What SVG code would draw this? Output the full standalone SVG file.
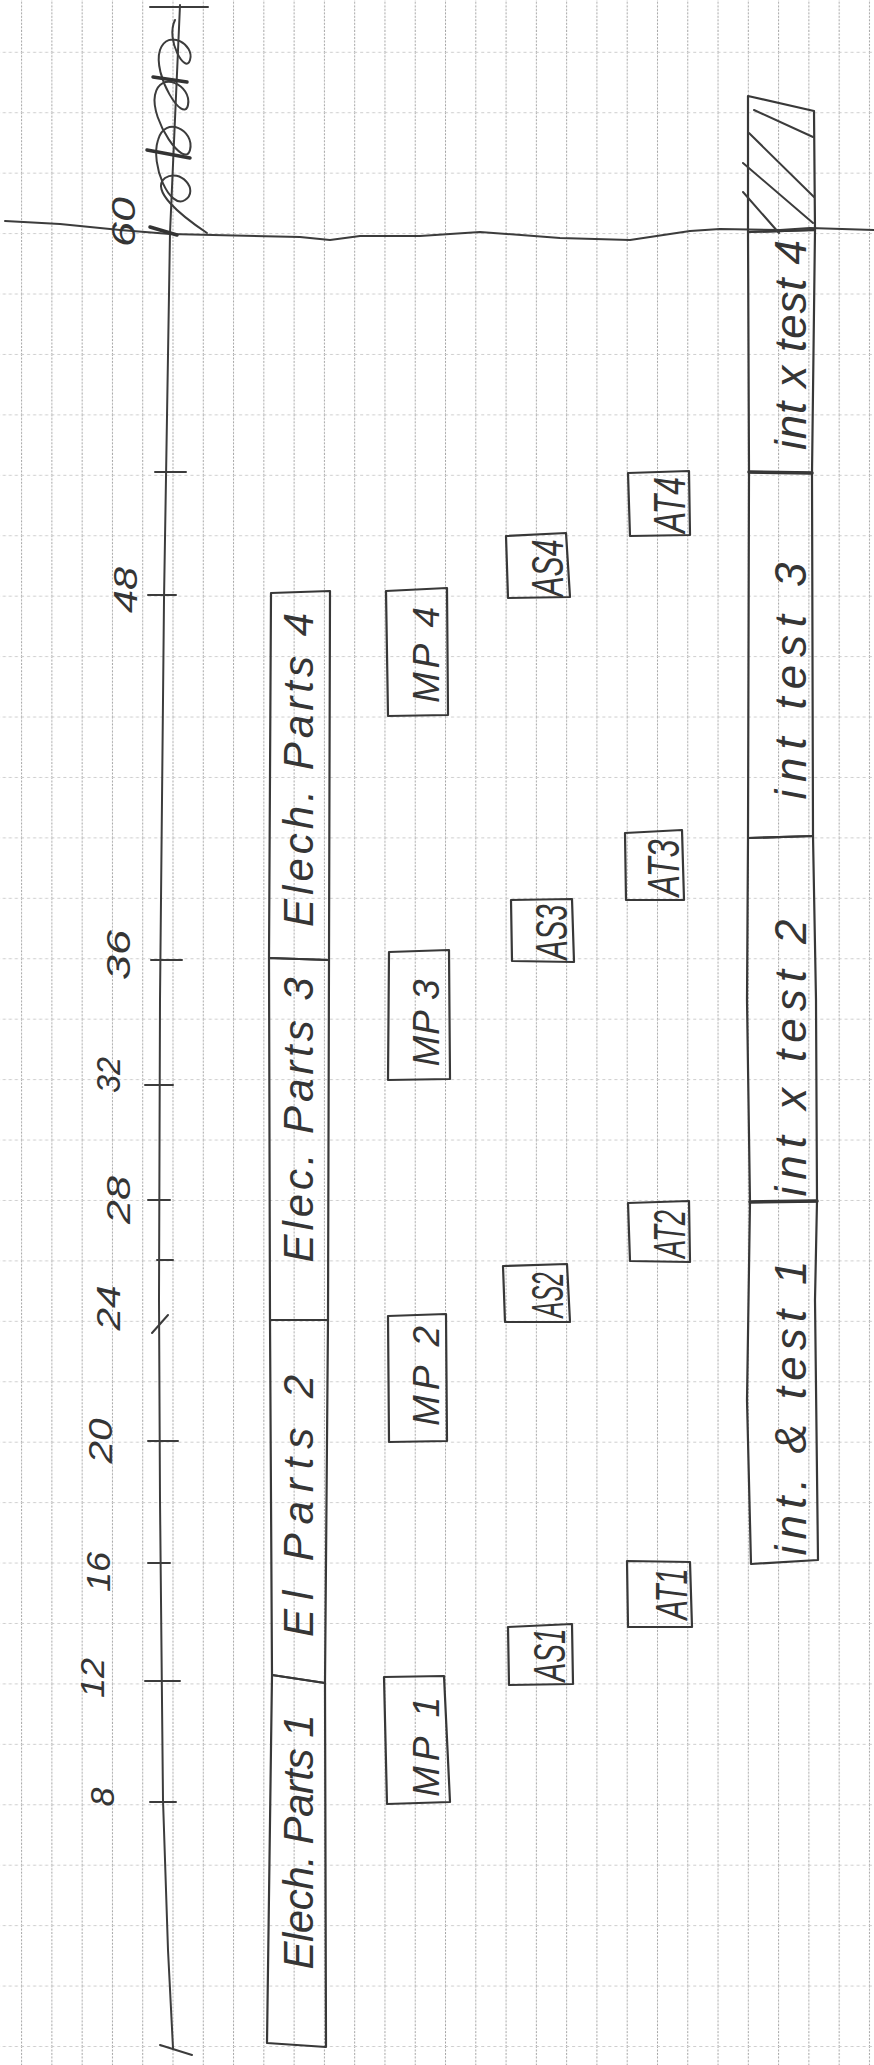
<svg xmlns="http://www.w3.org/2000/svg" width="874" height="2065" viewBox="0 0 874 2065">
<style>
.pen{fill:none;stroke:#3c3c3c;stroke-width:2;stroke-linecap:round;stroke-linejoin:round}
.thick{fill:none;stroke:#333;stroke-width:3.5;stroke-linecap:round}
.box{fill:none;stroke:#383838;stroke-width:2.2;stroke-linejoin:round}
.hand{font-family:"Liberation Sans",Arial,sans-serif;font-style:italic;fill:#353535;text-anchor:middle}
.num{font-size:34px}
.bar{font-size:42px}
.mp{font-size:37px}
.ab{font-size:44px}
.it{font-size:44px}
</style>
<defs>
<pattern id="grid" x="21.1" y="51.8" width="30.28" height="60.43" patternUnits="userSpaceOnUse">
<line x1="0.5" y1="0" x2="0.5" y2="60.43" stroke="#a4a4a4" stroke-width="1" stroke-dasharray="2 1.5"/>
<line x1="0" y1="0.5" x2="30.28" y2="0.5" stroke="#cdcdcd" stroke-width="1" stroke-dasharray="3 3"/>
</pattern>
</defs>
<rect x="0" y="0" width="874" height="2065" fill="#ffffff"/>
<rect x="0" y="0" width="874" height="2065" fill="url(#grid)"/>

<g id="axis">
<path class="pen" d="M5,221 L60,224 L120,230 L170,234 L300,237 L330,240 L360,236 L420,236 L480,232 L560,238 L630,240 L690,231 L720,229 L780,230 L810,228 L874,230"/>
<path class="pen" d="M180,5 L170,233 L164,600 L160,1000 L159,1300 L160,1500 L163,1800 L168,1950 L173,2048"/>
<path class="pen" d="M150,7 L208,7"/>
<path class="pen" d="M207,233 C180,215 150,190 165,178 C180,168 200,190 185,200 C170,210 150,165 158,140 C165,115 195,130 190,150 C185,170 150,120 155,95 C160,70 192,85 188,105 C184,125 152,75 160,50 C168,28 195,45 190,60 C186,75 165,40 175,20"/>
<path class="thick" d="M147,150 L190,158 M153,77 L187,82 M150,227 L177,235"/>
<path class="pen" d="M155,472 L186,472 M148,595 L176,595 M151,960 L182,960 M145,1085 L173,1085 M148,1200 L170,1200 M157,1260 L173,1260 M152,1333 L168,1315 M148,1441 L178,1441 M148,1563 L170,1563 M145,1681 L180,1681 M150,1802 L176,1802 M160,2045 L192,2055"/>
<g class="hand num">
<text transform="translate(135,222) rotate(-90)" textLength="50" lengthAdjust="spacingAndGlyphs">60</text>
<text transform="translate(137,590) rotate(-90)" textLength="46" lengthAdjust="spacingAndGlyphs">48</text>
<text transform="translate(130,955) rotate(-90)" textLength="50" lengthAdjust="spacingAndGlyphs">36</text>
<text transform="translate(120,1075) rotate(-90)" textLength="36" lengthAdjust="spacingAndGlyphs">32</text>
<text transform="translate(130,1200) rotate(-90)" textLength="48" lengthAdjust="spacingAndGlyphs">28</text>
<text transform="translate(120,1308) rotate(-90)" textLength="45" lengthAdjust="spacingAndGlyphs">24</text>
<text transform="translate(112,1441) rotate(-90)" textLength="45" lengthAdjust="spacingAndGlyphs">20</text>
<text transform="translate(110,1572) rotate(-90)" textLength="40" lengthAdjust="spacingAndGlyphs">16</text>
<text transform="translate(104,1678) rotate(-90)" textLength="40" lengthAdjust="spacingAndGlyphs">12</text>
<text transform="translate(114,1797) rotate(-90)">8</text>
</g>
</g>

<g id="connectors"></g>

<g id="elec1">
<path class="box" d="M272,1675 L325,1683 L326,2047 L267,2043 Z"/>
<text class="hand bar" transform="translate(313,1842) rotate(-90)" textLength="255" lengthAdjust="spacing">Elech. Parts 1</text>
</g>
<g id="elec2">
<path class="box" d="M270,1320 L328,1320 L325,1683 L272,1675 Z"/>
<text class="hand bar" transform="translate(313,1506) rotate(-90)" textLength="262" lengthAdjust="spacing">El Parts 2</text>
</g>
<g id="elec3">
<path class="box" d="M269,958 L329,960 L328,1320 L270,1320 Z"/>
<text class="hand bar" transform="translate(313,1120) rotate(-90)" textLength="285" lengthAdjust="spacing">Elec. Parts 3</text>
</g>
<g id="elec4">
<path class="box" d="M271,593 L330,591 L329,960 L269,958 Z"/>
<text class="hand bar" transform="translate(313,770) rotate(-90)" textLength="314" lengthAdjust="spacing">Elech. Parts 4</text>
</g>

<g id="mp1">
<path class="box" d="M384,1677 L444,1676 L450,1802 L387,1804 Z"/>
<text class="hand mp" transform="translate(439,1747) rotate(-90)" textLength="100" lengthAdjust="spacing">MP 1</text>
</g>
<g id="mp2">
<path class="box" d="M388,1316 L446,1314 L447,1441 L389,1442 Z"/>
<text class="hand mp" transform="translate(439,1376) rotate(-90)" textLength="100" lengthAdjust="spacing">MP 2</text>
</g>
<g id="mp3">
<path class="box" d="M389,952 L449,950 L450,1079 L388,1080 Z"/>
<text class="hand mp" transform="translate(439,1023) rotate(-90)" textLength="87" lengthAdjust="spacing">MP 3</text>
</g>
<g id="mp4">
<path class="box" d="M386,591 L447,588 L448,715 L388,716 Z"/>
<text class="hand mp" transform="translate(439,655) rotate(-90)" textLength="96" lengthAdjust="spacing">MP 4</text>
</g>

<g id="as1">
<path class="box" d="M508,1627 L572,1624 L573,1684 L509,1685 Z"/>
<text class="hand ab" transform="translate(565,1655) rotate(-90)" textLength="53" lengthAdjust="spacingAndGlyphs">AS1</text>
</g>
<g id="as2">
<path class="box" d="M503,1266 L567,1264 L570,1322 L505,1322 Z"/>
<text class="hand ab" transform="translate(563,1295) rotate(-90)" textLength="45" lengthAdjust="spacingAndGlyphs">AS2</text>
</g>
<g id="as3">
<path class="box" d="M511,900 L572,899 L574,962 L512,961 Z"/>
<text class="hand ab" transform="translate(567,932) rotate(-90)" textLength="55" lengthAdjust="spacingAndGlyphs">AS3</text>
</g>
<g id="as4">
<path class="box" d="M506,536 L566,533 L570,597 L508,598 Z"/>
<text class="hand ab" transform="translate(563,568) rotate(-90)" textLength="57" lengthAdjust="spacingAndGlyphs">AS4</text>
</g>

<g id="at1">
<path class="box" d="M627,1561 L690,1562 L692,1627 L628,1627 Z"/>
<text class="hand ab" transform="translate(687,1594) rotate(-90)" textLength="51" lengthAdjust="spacingAndGlyphs">AT1</text>
</g>
<g id="at2">
<path class="box" d="M628,1203 L689,1201 L690,1262 L630,1261 Z"/>
<text class="hand ab" transform="translate(685,1234) rotate(-90)" textLength="48" lengthAdjust="spacingAndGlyphs">AT2</text>
</g>
<g id="at3">
<path class="box" d="M625,833 L682,830 L684,900 L626,900 Z"/>
<text class="hand ab" transform="translate(679,868) rotate(-90)" textLength="57" lengthAdjust="spacingAndGlyphs">AT3</text>
</g>
<g id="at4">
<path class="box" d="M628,473 L689,471 L690,535 L630,536 Z"/>
<text class="hand ab" transform="translate(685,505) rotate(-90)" textLength="56" lengthAdjust="spacingAndGlyphs">AT4</text>
</g>

<g id="inttest1">
<path class="box" d="M750,1202 L817,1201 L815,1300 L818,1560 L751,1564 L747,1400 Z"/>
<path class="thick" d="M750,1202 L817,1201"/>
<text class="hand it" transform="translate(806,1408) rotate(-90)" textLength="295" lengthAdjust="spacing">int. &amp; test 1</text>
</g>
<g id="inttest2">
<path class="box" d="M748,838 L813,836 L816,1000 L817,1201 L750,1202 L747,1000 Z"/>
<text class="hand it" transform="translate(806,1058) rotate(-90)" textLength="277" lengthAdjust="spacing">int x test 2</text>
</g>
<g id="inttest3">
<path class="box" d="M749,472 L812,473 L813,836 L748,838 Z"/>
<path class="thick" d="M749,472 L812,473"/>
<text class="hand it" transform="translate(806,681) rotate(-90)" textLength="237" lengthAdjust="spacing">int test 3</text>
</g>
<g id="inttest4">
<path class="box" d="M748,232 L815,230 L812,473 L749,472 Z"/>
<text class="hand it" transform="translate(806,345) rotate(-90)" textLength="210" lengthAdjust="spacing">int x test 4</text>
</g>
<g id="hatched">
<path class="box" d="M748,96 L814,111 L815,230 L748,232 Z"/>
<path class="pen" d="M754,110 L813,137 M749,133 L814,197 M743,163 L813,223 M743,192 L779,233"/>
</g>
</svg>
